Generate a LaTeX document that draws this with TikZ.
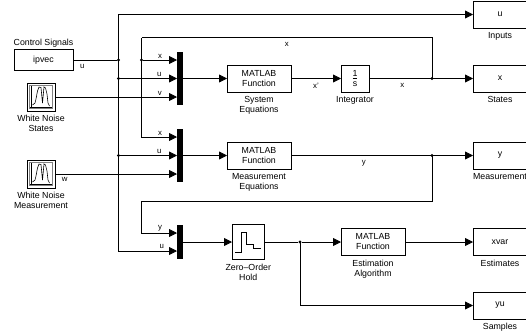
\documentclass[tikz,border=0pt]{standalone}
\usepackage{fontspec}
\setmainfont{Liberation Sans}
\usetikzlibrary{arrows.meta, positioning}

\begin{document}
\begin{tikzpicture}[
  x=1pt, y=-1pt,
  every node/.style = {font=\fontsize{8.8}{10}\selectfont, outer sep=0pt},
  block/.style  = {rectangle, draw, line width=0.9pt, inner sep=0pt, align=center},
  fcn/.style    = {block, minimum width=64pt, minimum height=27pt},
  intbox/.style = {block, minimum width=28pt, minimum height=27pt},
  outbox/.style = {block, minimum width=54pt, minimum height=27pt},
  scopebox/.style = {block, minimum width=28pt, minimum height=28pt},
  mux/.style    = {rectangle, fill=black, inner sep=0pt, minimum width=6pt},
  blocklabel/.style = {align=center, inner sep=0pt},
  sig/.style    = {font=\fontsize{7.8}{9}\selectfont, inner sep=2pt},
  wire/.style   = {line width=0.8pt},
  arrow/.style  = {-{Triangle[length=8pt, width=8pt]}, line width=0.8pt},
  junction/.style = {circle, fill=black, inner sep=0pt, minimum size=3.2pt},
  node distance = 4.5pt
]
\clip (0,0) rectangle (526,333);

% ── Sources ──────────────────────────────────────────────────────────────────
\node[block, minimum width=59pt, minimum height=21.5pt] (ipvec) at (43.5,60) {ipvec};
\node[blocklabel, above=1.5pt of ipvec] (ipveclbl) {Control Signals};

\node[scopebox] (wns) at (41,97) {};
\node[blocklabel, below=of wns] (wnslbl) {White Noise\\States};

\node[scopebox] (wnm) at (41,174) {};
\node[blocklabel, below=of wnm] (wnmlbl) {White Noise\\Measurement};

% noise traces
\foreach \blk in {wns, wnm} {
  \draw[gray, line width=0.3pt] ([shift={(-11.5,-11.5)}]\blk.center) rectangle ([shift={(11.5,11.5)}]\blk.center);
  \draw[line width=0.6pt] ([shift={(-9.5,-11)}]\blk.center) -- ([shift={(-9.5,11)}]\blk.center);
  \draw[line width=0.6pt] ([shift={(-11,10)}]\blk.center) -- ([shift={(11,10)}]\blk.center);
  \draw[line width=0.6pt] ([shift={(-8.5,8)}]\blk.center) -- ([shift={(-6,6)}]\blk.center)
    -- ([shift={(-5,2)}]\blk.center) -- ([shift={(-3.5,-6)}]\blk.center) -- ([shift={(-2,-10)}]\blk.center)
    -- ([shift={(0,-9.5)}]\blk.center) -- ([shift={(1.5,6)}]\blk.center) -- ([shift={(3,-10)}]\blk.center)
    -- ([shift={(4.5,-9)}]\blk.center) -- ([shift={(6,-3)}]\blk.center) -- ([shift={(7,6)}]\blk.center)
    -- ([shift={(8.5,9)}]\blk.center);
}

% ── Muxes ────────────────────────────────────────────────────────────────────
\node[mux, minimum height=53pt] (mux1) at (180,78.5) {};
\node[mux, minimum height=53pt, below=24pt of mux1] (mux2) {};
\node[mux, minimum height=34pt, below=43pt of mux2] (mux3) {};

\coordinate (m1x) at ([yshift=18.5pt]mux1.west);
\coordinate (m1v) at ([yshift=-18.5pt]mux1.west);
\coordinate (m2x) at ([yshift=18.5pt]mux2.west);
\coordinate (m2w) at ([yshift=-18.5pt]mux2.west);
\coordinate (m3y) at ([yshift=9pt]mux3.west);
\coordinate (m3u) at ([yshift=-9pt]mux3.west);

% ── Function blocks ──────────────────────────────────────────────────────────
\node[fcn, right=44pt of mux1] (sys) {MATLAB\\Function};
\node[blocklabel, below=of sys] (syslbl) {System\\Equations};

\node[intbox, right=50pt of sys] (intg) {\underline{1}\\s};
\node[blocklabel, below=of intg] (intlbl) {Integrator};

\node[fcn, right=44pt of mux2] (meas) {MATLAB\\Function};
\node[blocklabel, below=of meas] (measlbl) {Measurement\\Equations};

\node[block, minimum width=32.5pt, minimum height=35pt, right=49pt of mux3] (zoh) {};
\node[blocklabel, below=of zoh] (zohlbl) {Zero--Order\\Hold};
\draw[line width=0.6pt] ([shift={(-13,10)}]zoh.center) -- ([shift={(-7,10)}]zoh.center)
  -- ([shift={(-7,-10)}]zoh.center) -- ([shift={(-1.5,-10)}]zoh.center)
  -- ([shift={(-1.5,2.5)}]zoh.center) -- ([shift={(5,2.5)}]zoh.center)
  -- ([shift={(5,6)}]zoh.center) -- ([shift={(12.5,6)}]zoh.center);

\node[fcn, right=76.5pt of zoh] (est) {MATLAB\\Function};
\node[blocklabel, below=of est] (estlbl) {Estimation\\Algorithm};

% ── Outputs ──────────────────────────────────────────────────────────────────
\node[outbox, right=104pt of intg] (outx) {x};
\node[blocklabel, below=of outx] (outxlbl) {States};

\node[outbox, above=37pt of outx] (outu) {u};
\node[blocklabel, below=of outu] (outulbl) {Inputs};

\node[outbox, below=50pt of outx] (outy) {y};
\node[blocklabel, below=of outy] (outylbl) {Measurement};

\node[outbox, below=59.5pt of outy] (outv) {xvar};
\node[blocklabel, below=of outv] (outvlbl) {Estimates};

\node[outbox, below=36.5pt of outv] (outs) {yu};
\node[blocklabel, below=of outs] (outslbl) {Samples};

% ── Junctions ────────────────────────────────────────────────────────────────
\node[junction] (ju1) at (118.5,60) {};
\node[junction] (ju2) at (ju1 |- mux1) {};
\node[junction] (ju3) at (ju1 |- mux2) {};
\coordinate (fbtop) at (141.5,37.5);
\node[junction] (jfb) at (fbtop |- m1x) {};
\node[junction] (jx) at (432,78.5) {};
\node[junction] (jy) at (jx |- meas) {};
\coordinate (fby) at (141.5,201);
\node[junction] (jz) at (300,242) {};

% ── Input wires ──────────────────────────────────────────────────────────────
\draw[wire] (ipvec.east) -- (ju1) node[pos=0.21, below=2.5pt, sig] {u};
\draw[arrow] (ju1.center) |- (outu.west);
\draw[wire] (ju1.center) -- (ju3.center);
\draw[arrow] (ju3.center) |- (m3u) node[pos=0.87, above, sig] {u};
\draw[arrow] (ju2) -- (mux1.west) node[pos=0.69, above, sig] {u};
\draw[arrow] (ju3) -- (mux2.west) node[pos=0.69, above, sig] {u};
\draw[arrow] (wns.east) -- (m1v) node[pos=0.86, above, sig] {v};
\draw[arrow] (wnm.east) -- (m2w) node[pos=0.08, below=1pt, sig] {w};

% ── Feedback wires ───────────────────────────────────────────────────────────
\draw[wire] (jx.center) |- (fbtop) node[pos=0.75, below=2.5pt, sig] {x};
\draw[wire] (fbtop) -- (jfb.center);
\draw[arrow] (jfb) -- (m1x) node[midway, above, sig] {x};
\draw[arrow] (jfb.center) |- (m2x) node[pos=0.76, above, sig] {x};
\draw[wire] (jy.center) |- (fby);
\draw[arrow] (fby) |- (m3y) node[pos=0.76, above, sig] {y};

% ── Forward path ─────────────────────────────────────────────────────────────
\draw[arrow] (mux1.east) -- (sys.west);
\draw[arrow] (sys.east) -- (intg.west) node[midway, below=2.5pt, sig] {x'};
\draw[arrow] (intg.east) -- (outx.west) node[pos=0.32, below=2.5pt, sig] {x};
\draw[arrow] (mux2.east) -- (meas.west);
\draw[arrow] (meas.east) -- (outy.west) node[pos=0.4, below=2.5pt, sig] {y};
\draw[arrow] (mux3.east) -- (zoh.west);
\draw[wire] (zoh.east) -- (jz);
\draw[arrow] (jz) -- (est.west);
\draw[arrow] (est.east) -- (outv.west);
\draw[arrow] (jz.center) |- (outs.west);

\end{tikzpicture}
\end{document}
